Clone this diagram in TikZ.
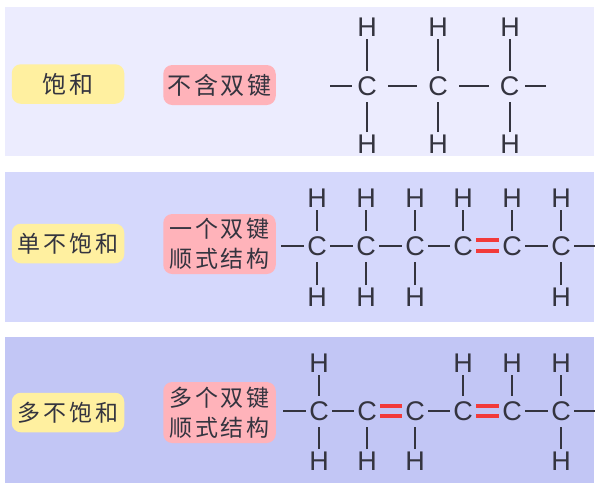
\documentclass[tikz,border=0pt]{standalone}
\usepackage{fontspec}
\setmainfont{Liberation Sans}
\newfontfamily\cjkfont[LetterSpace=12]{Noto Sans CJK SC}
\definecolor{panelA}{HTML}{ECECFE}
\definecolor{panelB}{HTML}{D5D8FC}
\definecolor{panelC}{HTML}{C2C6F5}
\definecolor{tagY}{HTML}{FFF0A0}
\definecolor{tagP}{HTML}{FFB3BA}
\definecolor{ink}{HTML}{34343F}
\definecolor{dbl}{HTML}{F23A3A}
\tikzset{
  panelbox/.style={draw=none,inner sep=0pt,outer sep=0pt,minimum width=589pt},
  tag/.style={draw=none,rounded corners=9pt,inner sep=0pt,outer sep=0pt,minimum width=112.5pt,align=center,text=ink,
    font=\cjkfont\fontsize{23}{30}\selectfont},
  ytag/.style={tag,fill=tagY,minimum height=39.5pt},
  ptag/.style={tag,fill=tagP},
  atom/.style={inner sep=0pt,outer sep=0pt,text=ink,font=\fontsize{27}{27}\selectfont,anchor=center},
  catom/.style={atom,minimum width=26pt,minimum height=31pt},
  catomwide/.style={atom,minimum width=42pt,minimum height=31pt},
  hatom/.style={atom,minimum width=20pt,minimum height=24pt},
  bond/.style={draw=ink,line width=2.4pt},
  dblbond/.style={draw=dbl,line width=3.6pt},
}
\newcommand{\catomat}[4][catom]{\node[#1] (#2) at (#3,#4) {C};}
\newcommand{\hatomat}[3]{\node[hatom] (#1) at (#2,#3) {H};}
\begin{document}
\begin{tikzpicture}[x=1pt,y=-1pt]
\useasboundingbox (0,0) rectangle (600,483);
% panels
\node[panelbox,fill=panelA,minimum height=149pt] (pa) at (299.5,81.5) {};
\node[panelbox,fill=panelB,minimum height=150pt] (pb) at (299.5,247) {};
\node[panelbox,fill=panelC,minimum height=146pt] (pc) at (299.5,410) {};
% tags
\node[ytag,font=\cjkfont\fontsize{24}{30}\selectfont] (ya) at (68,84) {饱和};
\node[ptag,minimum height=40pt,font=\cjkfont\fontsize{24}{30}\selectfont] (ra) at (219.5,85) {不含双键};
\node[ytag] (yb) at (68,243.5) {单不饱和};
\node[ptag,minimum height=60pt] (rb) at (219.5,244) {一个双键\\顺式结构};
\node[ytag] (yc) at (68,412.5) {多不饱和};
\node[ptag,minimum height=61pt] (rc) at (219.5,412.5) {多个双键\\顺式结构};
% panel 1
\catomat[catomwide]{a1}{367}{86.5}
\catomat[catomwide]{a2}{438}{86.5}
\catomat[catomwide]{a3}{509.5}{86.5}
\foreach \n/\x in {1/367,2/438,3/510}{
  \hatomat{at\n}{\x}{27}
  \hatomat{ab\n}{\x}{144}
  \draw[bond] (at\n) -- (at\n |- a\n.north);
  \draw[bond] (ab\n) -- (ab\n |- a\n.south);
}
\coordinate (al) at (330,86);
\coordinate (ar) at (546,86);
\draw[bond,shorten >=-6pt] (al) -- (a1.west |- al);
\draw[bond] (a1.east |- al) -- (a2.west |- al);
\draw[bond] (a2.east |- al) -- (a3.west |- al);
\draw[bond,shorten >=-6pt] (ar) -- (a3.east |- ar);
% panel 2
\foreach \n/\x in {1/317,2/366,3/415,4/463,5/512,6/561}{
  \catomat{b\n}{\x}{246}
  \hatomat{bt\n}{\x}{198}
  \draw[bond] (bt\n) -- (b\n);
}
\foreach \n/\x in {1/317,2/366,3/415,6/561}{
  \hatomat{bb\n}{\x}{297}
  \draw[bond] (bb\n) -- (b\n);
}
\coordinate (bl) at (281,246);
\coordinate (br) at (595,246);
\draw[bond] (bl) -- (b1);
\draw[bond] (b1) -- (b2);
\draw[bond] (b2) -- (b3);
\draw[bond] (b3) -- (b4);
\draw[dblbond] ([yshift=6pt]b4.east) -- ([yshift=6pt]b5.west);
\draw[dblbond] ([yshift=-5pt]b4.east) -- ([yshift=-5pt]b5.west);
\draw[bond] (b5) -- (b6);
\draw[bond] (b6) -- (br);
% panel 3
\foreach \n/\x in {1/319,2/367,3/415,4/463,5/512,6/561}{
  \catomat{c\n}{\x}{411}
}
\foreach \n/\x in {1/319,4/463,5/512,6/561}{
  \hatomat{ct\n}{\x}{363}
  \draw[bond] (ct\n) -- (c\n);
}
\foreach \n/\x in {1/319,2/367,3/415,6/561}{
  \hatomat{cb\n}{\x}{461}
  \draw[bond] (cb\n) -- (c\n);
}
\coordinate (cl) at (283,411);
\coordinate (cr) at (595,411);
\draw[bond] (cl) -- (c1);
\draw[bond] (c1) -- (c2);
\draw[dblbond] ([yshift=5pt]c2.east) -- ([yshift=5pt]c3.west);
\draw[dblbond] ([yshift=-5pt]c2.east) -- ([yshift=-5pt]c3.west);
\draw[bond] (c3) -- (c4);
\draw[dblbond] ([yshift=5pt]c4.east) -- ([yshift=5pt]c5.west);
\draw[dblbond] ([yshift=-5pt]c4.east) -- ([yshift=-5pt]c5.west);
\draw[bond] (c5) -- (c6);
\draw[bond] (c6) -- (cr);
\end{tikzpicture}
\end{document}
